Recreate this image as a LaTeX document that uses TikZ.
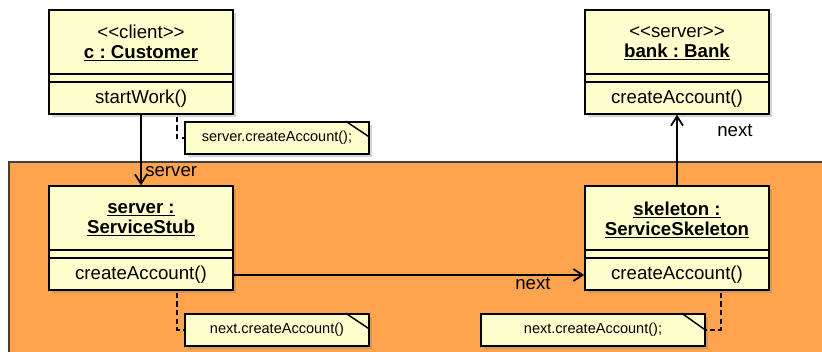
\documentclass[tikz,border=0pt]{standalone}
\usepackage{fontspec}
\setmainfont{Liberation Sans}
\usetikzlibrary{shadows,arrows.meta}
\definecolor{umlyellow}{RGB}{255,255,206}
\definecolor{packorange}{RGB}{255,164,78}
\frenchspacing

\begin{document}
\begin{tikzpicture}[x=0.75pt,y=-0.75pt,
  objbox/.style={draw, line width=1.1pt, fill=umlyellow, minimum width=138pt, minimum height=78pt, inner sep=0pt,
    drop shadow={shadow xshift=2.2pt, shadow yshift=-2.2pt, opacity=0.35}},
  notebox/.style={draw, line width=1.1pt, fill=umlyellow, minimum height=24pt, inner sep=0pt,
    font=\fontsize{10.9}{12}\selectfont,
    drop shadow={shadow xshift=2.2pt, shadow yshift=-2.2pt, opacity=0.35}},
  lbl/.style={font=\fontsize{14}{15}\selectfont, inner sep=0pt, align=center},
  assoc/.style={line width=1pt, -{Straight Barb[length=7pt,width=9pt,line width=1.3pt]}},
  noteline/.style={line width=1pt, dash pattern=on 4pt off 2.5pt},
  ]
  \useasboundingbox (0,0) rectangle (822,352);
  \clip (0,0) rectangle (822,352);

  % middleware package
  \draw [line width=0.8pt, draw=black!75, fill=packorange] (9,162) rectangle (840,370);

  % objects
  \node[objbox] (cust) at (141,62) {};
  \node[objbox] (bank) at (677,62) {};
  \node[objbox] (stub) at (141,238) {};
  \node[objbox] (skel) at (677,238) {};

  \draw [line width=1.1pt] (49,74) -- (233,74) (49,82) -- (233,82);
  \draw [line width=1.1pt] (585,74) -- (769,74) (585,82) -- (769,82);
  \draw [line width=1.1pt] (49,250) -- (233,250) (49,258) -- (233,258);
  \draw [line width=1.1pt] (585,250) -- (769,250) (585,258) -- (769,258);

  \node[lbl] (custname) at (141,43) {<\kern0pt<client>\kern0pt>\\\underline{\textbf{c : Customer}}};
  \node[lbl] (custop) at (141,99) {startWork()};
  \node[lbl] (bankname) at (677,43) {<\kern0pt<server>\kern0pt>\\\underline{\textbf{bank : Bank}}};
  \node[lbl] (bankop) at (677,99) {createAccount()};
  \node[lbl] (stubname) at (141,220) {\underline{\textbf{server :}}\\\underline{\textbf{ServiceStub}}};
  \node[lbl] (stubop) at (141,275) {createAccount()};
  \node[lbl] (skelname) at (677,220) {\underline{\textbf{skeleton :}}\\\underline{\textbf{ServiceSkeleton}}};
  \node[lbl] (skelop) at (677,275) {createAccount()};

  % notes
  \node[notebox, minimum width=138pt] (note1) at (277,138) {server.createAccount();};
  \node[notebox, minimum width=138pt] (note2) at (277,330) {next.createAccount()};
  \node[notebox, minimum width=168pt] (note3) at (593,330) {next.createAccount();};
  \draw [line width=1.1pt] (note1.north east) ++(-24,0) -- ++(24,16);
  \draw [line width=1.1pt] (note2.north east) ++(-24,0) -- ++(24,16);
  \draw [line width=1.1pt] (note3.north east) ++(-24,0) -- ++(24,17);

  \draw [noteline] (cust.south) ++(36,2) |- (note1.west);
  \draw [noteline] (stub.south) ++(36,2) |- (note2.west);
  \draw [noteline] (skel.south) ++(44,2) |- (note3.east);

  % links
  \draw [assoc] (cust.south) -- (stub.north);
  \draw [assoc] (stubop -| stub.east) -- (stubop -| skel.west);
  \draw [assoc] (skel.north) -- (bank.south);

  \node[lbl, anchor=west] (srvlbl) at (145,172) {server};
  \node[lbl] (nextlbl1) at (533,284) {next};
  \node[lbl] (nextlbl2) at (735,131) {next};
\end{tikzpicture}
\end{document}
